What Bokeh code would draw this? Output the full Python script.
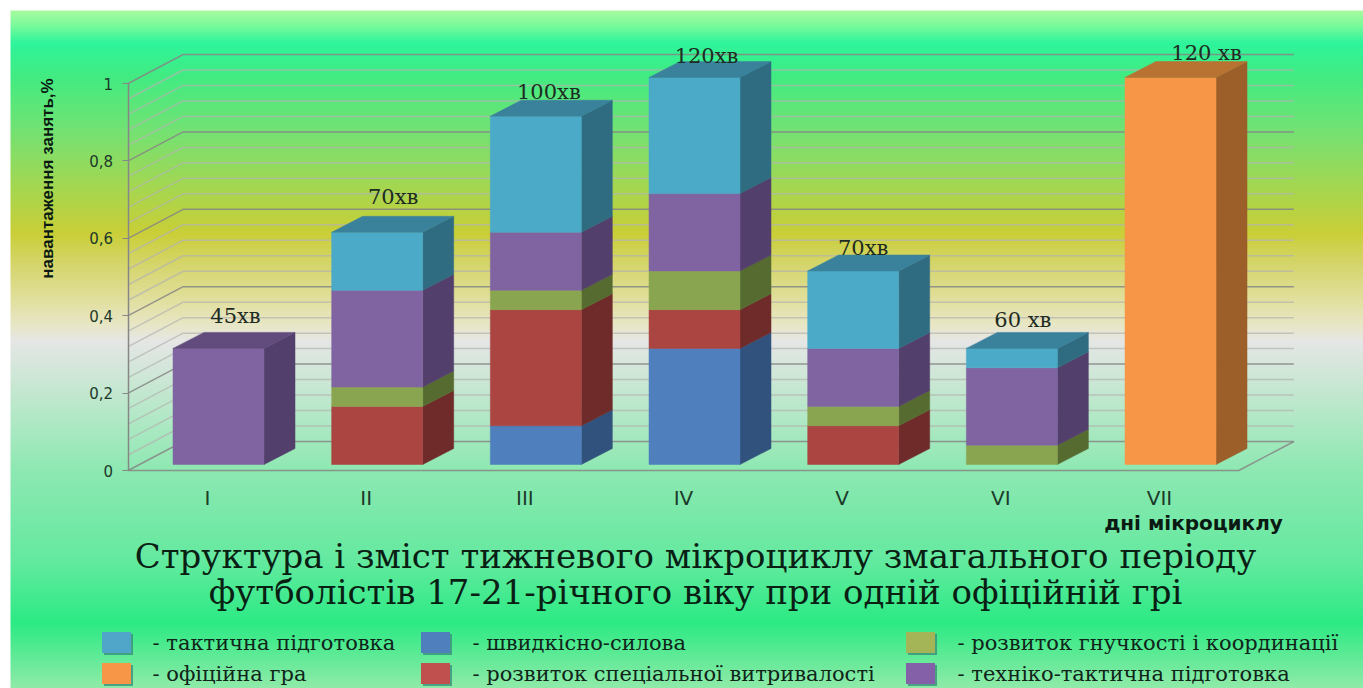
import numpy as np
from bokeh.core.properties import value
from bokeh.embed import file_html
from bokeh.models import FixedTicker, LinearAxis, Range1d
from bokeh.plotting import figure
from bokeh.resources import INLINE

W, H = 1363, 688

# Weekly microcycle load by training component
days = ["I", "II", "III", "IV", "V", "VI", "VII"]
speed_strength = [0, 0, 0.1, 0.3, 0, 0, 0]
endurance = [0, 0.15, 0.3, 0.1, 0.1, 0, 0]
flexibility = [0, 0.05, 0.05, 0.1, 0.05, 0.05, 0]
technique = [0.3, 0.25, 0.15, 0.2, 0.15, 0.2, 0]
tactics = [0, 0.15, 0.3, 0.3, 0.2, 0.05, 0]
official_game = [0, 0, 0, 0, 0, 0, 1.0]
durations = ["45хв", "70хв", "100хв", "120хв", "70хв", "60 хв", "120 хв"]

y_ticks = [0, 0.2, 0.4, 0.6, 0.8, 1]
y_labels = {0.2: "0,2", 0.4: "0,4", 0.6: "0,6", 0.8: "0,8"}

legend_labels = [
    "- тактична підготовка", "- швидкісно-силова", "- розвиток гнучкості і координації",
    "- офіційна гра", "- розвиток спеціальної витривалості", "- техніко-тактична підготовка",
]

# (values, front, side, top) from the bottom of the stack upwards
series = [
    (speed_strength, "#4f7fbc", "#30527c", "#3a6190"),
    (endurance, "#aa4542", "#6e2b2a", "#823432"),
    (flexibility, "#8aa550", "#566b30", "#67803a"),
    (technique, "#8064a2", "#533f6b", "#624b7d"),
    (tactics, "#4aaac8", "#2f6c82", "#3a829c"),
    (official_game, "#f79646", "#9c5f2a", "#b87333"),
]

# Pixel layout of the drawing, converted to data space by the helpers below
PX_PER_DAY, PX_PER_UNIT = 158.67, 387.0
FIRST_DAY_PX, ZERO_PX = 207.0, 470.0


def dx(px):
    return px / PX_PER_DAY


def dy(px):
    return px / PX_PER_UNIT


def xd(px):
    return 1 + (px - FIRST_DAY_PX) / PX_PER_DAY


def yd(px):
    return (ZERO_PX - px) / PX_PER_UNIT


p = figure(width=W, height=H, output_backend="svg", toolbar_location=None,
           x_range=Range1d(xd(0), xd(W)), y_range=Range1d(yd(H), yd(0)),
           x_axis_type=None, y_axis_type=None, min_border=0, outline_line_color=None,
           background_fill_color="white", border_fill_color="white")
p.grid.visible = False

# Page-wide vertical colour wash
stops = [
    (10, (168, 252, 160)), (25, (120, 250, 155)), (42, (46, 245, 156)), (75, (66, 236, 130)),
    (130, (116, 226, 115)), (180, (160, 216, 85)), (232, (202, 207, 55)), (265, (214, 214, 110)),
    (300, (226, 224, 160)), (322, (232, 230, 195)), (340, (230, 230, 230)), (400, (190, 232, 205)),
    (470, (142, 232, 178)), (560, (100, 234, 160)), (622, (44, 234, 132)), (688, (146, 234, 170)),
]
rows = np.arange(10, H)
stop_y = [s[0] for s in stops]
rgb = [np.interp(rows, stop_y, [s[1][i] for s in stops]) for i in range(3)]
wash = np.zeros((len(rows), 1), dtype=np.uint32)
view = wash.view(dtype=np.uint8).reshape((len(rows), 1, 4))
view[::-1, 0, 0], view[::-1, 0, 1], view[::-1, 0, 2] = rgb[0], rgb[1], rgb[2]
view[:, 0, 3] = 255
p.image_rgba(image=[wash], x=xd(10), y=yd(H), dw=dx(W - 10), dh=dy(H - 10))

# Chart box: back wall, side wall and floor
WALL_X, WALL_Y = dx(55), dy(29)
left, right = 0.5, 7.5
levels = [round(i * 0.04, 2) for i in range(26)]
majors = [v for v in levels if round(v / 0.2, 6).is_integer()]
minors = [v for v in levels if v not in majors]
for group, color, alpha in ((minors, "#b4b4b0", 0.7), (majors, "#868686", 0.85)):
    p.multi_line(
        xs=[[left, left + WALL_X, right + WALL_X] for _ in group],
        ys=[[v, v + WALL_Y, v + WALL_Y] for v in group],
        line_color=color, line_alpha=alpha, line_width=1.5,
    )
p.multi_line(xs=[[left, right, right + WALL_X]], ys=[[0, 0, WALL_Y]],
             line_color="#868686", line_alpha=0.85, line_width=1.5)

# Stacked 3D columns
BAR_W = dx(91)
LIFT_X, LIFT_Y = dx(11), dy(6)
DEPTH_X, DEPTH_Y = dx(31), dy(16)
positions = np.arange(1, len(days) + 1)
base = np.zeros(len(days))
for values, front, side, top in series:
    vals = np.array(values, dtype=float)
    upper = base + vals
    keep = vals > 0
    cx = positions[keep] + LIFT_X
    lo, hi = base[keep] + LIFT_Y, upper[keep] + LIFT_Y
    xr = cx + BAR_W / 2
    p.patches(xs=[[a, a + DEPTH_X, a + DEPTH_X, a] for a in xr],
              ys=[[b, b + DEPTH_Y, c + DEPTH_Y, c] for b, c in zip(lo, hi)],
              fill_color=side, line_color=side, line_width=0.5)
    p.vbar(x=cx, width=BAR_W, bottom=lo, top=hi,
           fill_color=front, line_color=front, line_width=0.5)
    base = upper

# Lid of each column takes the colour of its highest segment
for i, total in enumerate(base):
    owner = [s for s in series if s[0][i] > 0][-1]
    cx = positions[i] + LIFT_X
    t = total + LIFT_Y
    a, b = cx - BAR_W / 2, cx + BAR_W / 2
    p.patch(x=[a, b, b + DEPTH_X, a + DEPTH_X], y=[t, t, t + DEPTH_Y, t + DEPTH_Y],
            fill_color=owner[3], line_color=owner[3], line_width=0.5)

# Session durations above the columns
label_dx = [17, 16, 13, 12, 10, 11, 36]
label_lift = [16, 19, 8, 6, 7, 12, 9]
p.text(x=[positions[i] + LIFT_X + dx(label_dx[i]) for i in range(7)],
       y=[base[i] + LIFT_Y + DEPTH_Y + dy(label_lift[i]) for i in range(7)],
       text=durations, text_font=value("DejaVu Serif"), text_font_size="21px",
       text_color="#1d2b22", text_align="center", text_baseline="middle")

# Axes
y_axis = LinearAxis(fixed_location=left, ticker=FixedTicker(ticks=y_ticks), bounds=(0, 1),
                    major_label_overrides=y_labels, axis_line_color="#868686", axis_line_width=1.5,
                    major_tick_line_color="#868686", major_tick_in=0, major_tick_out=6,
                    minor_tick_line_color=None, major_label_standoff=9,
                    major_label_text_font="DejaVu Sans", major_label_text_font_size="15px",
                    major_label_text_color="#1c3a2a")
p.add_layout(y_axis, "left")
x_axis = LinearAxis(fixed_location=0, ticker=FixedTicker(ticks=list(positions)),
                    major_label_overrides={int(k): v for k, v in zip(positions, days)},
                    axis_line_color=None, major_tick_line_color=None, minor_tick_line_color=None,
                    major_label_standoff=9, major_label_text_font="DejaVu Sans",
                    major_label_text_font_size="20px", major_label_text_color="#1c3a2a")
p.add_layout(x_axis, "below")

p.text(x=[xd(47)], y=[yd(178)], text=["навантаження занять,%"], angle=np.pi / 2,
       text_font=value("Liberation Sans"), text_font_style="bold", text_font_size="17px",
       text_color="#0a1a12", text_align="center", text_baseline="middle")
p.text(x=[xd(1193)], y=[yd(522)], text=["дні мікроциклу"],
       text_font=value("DejaVu Sans"), text_font_style="bold", text_font_size="20px",
       text_color="#0a1a12", text_align="center", text_baseline="middle")

# Two-line heading
p.text(x=[xd(695), xd(695)], y=[yd(555), yd(591)],
       text=["Структура і зміст тижневого мікроциклу змагального періоду",
             "футболістів 17-21-річного віку при одній офіційній грі"],
       text_font=value("DejaVu Serif"), text_font_size="34px", text_color="#0a1f14",
       text_align="center", text_baseline="middle")

# Colour key in three columns and two rows
key_colors = ["#4fa6c8", "#4f7fbc", "#a3b556", "#f79646", "#c0504d", "#8460a8"]
key_x = [116, 435, 920, 116, 435, 920]
key_y = [642, 642, 642, 673, 673, 673]
text_x = [152, 472, 957, 152, 472, 957]
p.rect(x=[xd(a + 2) for a in key_x], y=[yd(b + 2) for b in key_y], width=dx(29), height=dy(21),
       fill_color="#3a8f7c", line_color=None, fill_alpha=0.8)
p.rect(x=[xd(a) for a in key_x], y=[yd(b) for b in key_y], width=dx(29), height=dy(21),
       fill_color=key_colors, line_color=None)
p.text(x=[xd(a) for a in text_x], y=[yd(b) for b in key_y], text=legend_labels,
       text_font=value("DejaVu Serif"), text_font_size="21px", text_color="#10241a",
       text_align="left", text_baseline="middle")

open("out.html", "w").write(file_html(p, INLINE))
